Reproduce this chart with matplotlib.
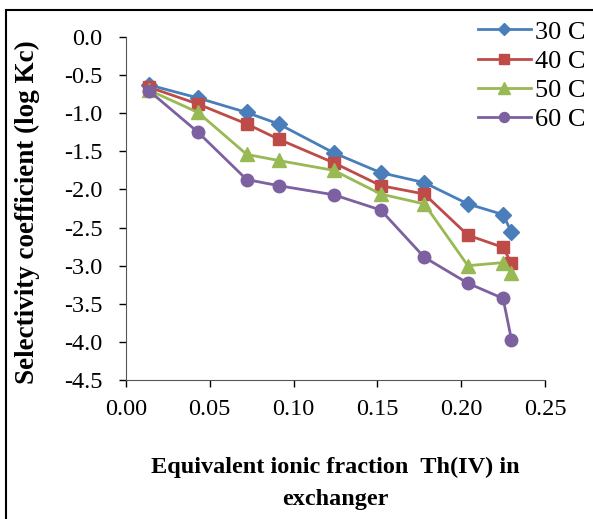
import matplotlib.pyplot as plt
from matplotlib.patches import Rectangle

plt.rcParams['font.family'] = ['Liberation Serif', 'DejaVu Serif']

# equivalent ionic fraction of Th(IV) in exchanger
x_frac = [0.014, 0.043, 0.072, 0.091, 0.124, 0.152, 0.178, 0.204, 0.225, 0.230]

# log Kc at each temperature
logkc_30 = [-0.63, -0.80, -0.99, -1.14, -1.52, -1.78, -1.91, -2.19, -2.33, -2.56]
logkc_40 = [-0.66, -0.88, -1.14, -1.34, -1.65, -1.95, -2.06, -2.60, -2.76, -2.97]
logkc_50 = [-0.70, -0.99, -1.54, -1.62, -1.75, -2.06, -2.19, -3.00, -2.96, -3.10]
logkc_60 = [-0.71, -1.25, -1.87, -1.95, -2.07, -2.27, -2.89, -3.23, -3.43, -3.97]

series_labels = ['30 C', '40 C', '50 C', '60 C']
x_ticks = [0.00, 0.05, 0.10, 0.15, 0.20, 0.25]
y_ticks = [0.0, -0.5, -1.0, -1.5, -2.0, -2.5, -3.0, -3.5, -4.0, -4.5]

fig = plt.figure(figsize=(5.93, 5.19), dpi=100)
ax = fig.add_axes([0.2125, 0.2678, 0.7065, 0.6609])

styles = [
    ('#4A7EBB', 'D', 8),
    ('#BE4B48', 's', 9),
    ('#98B954', '^', 10),
    ('#7D60A0', 'o', 9),
]
for ys, lab, (col, mk, ms) in zip([logkc_30, logkc_40, logkc_50, logkc_60], series_labels, styles):
    ax.plot(x_frac, ys, color=col, lw=2, marker=mk, markersize=ms,
            markerfacecolor=col, markeredgecolor=col, label=lab, clip_on=False)

ax.set_xlim(0, 0.25)
ax.set_ylim(-4.5, 0)
ax.set_xticks(x_ticks)
ax.set_yticks(y_ticks)
ax.set_xticklabels([f'{v:.2f}' for v in x_ticks])
ax.set_yticklabels([f'{v:.1f}' for v in y_ticks])
ax.tick_params(labelsize=17.5, direction='out', length=5, width=1)
ax.tick_params(axis='y', pad=12)
ax.tick_params(axis='x', pad=9)
ax.spines['top'].set_visible(False)
ax.spines['right'].set_visible(False)
ax.spines['left'].set_color('#555555')
ax.spines['bottom'].set_color('#555555')

ax.set_ylabel('Selectivity coefficient (log Kc)', fontsize=19.5, fontweight='bold')
ax.yaxis.set_label_coords(-0.205, 0.49)
ax.set_xlabel('Equivalent ionic fraction  Th(IV) in\nexchanger', fontsize=17.5,
              fontweight='bold', linespacing=1.65)
ax.xaxis.set_label_coords(0.5, -0.225)
ax.xaxis.label.set_verticalalignment('top')

leg = ax.legend(loc='upper left', bbox_to_anchor=(0.815, 1.08), frameon=False,
                fontsize=19, handlelength=2.0, handletextpad=0.15, labelspacing=0.22,
                markerscale=0.8, borderaxespad=0)

fig.patches.append(Rectangle((0.010, -0.1), 1.2, 0.1 + 0.981, transform=fig.transFigure,
                             fill=False, edgecolor='black', lw=1.5))

fig.savefig('out.png', dpi=100)
